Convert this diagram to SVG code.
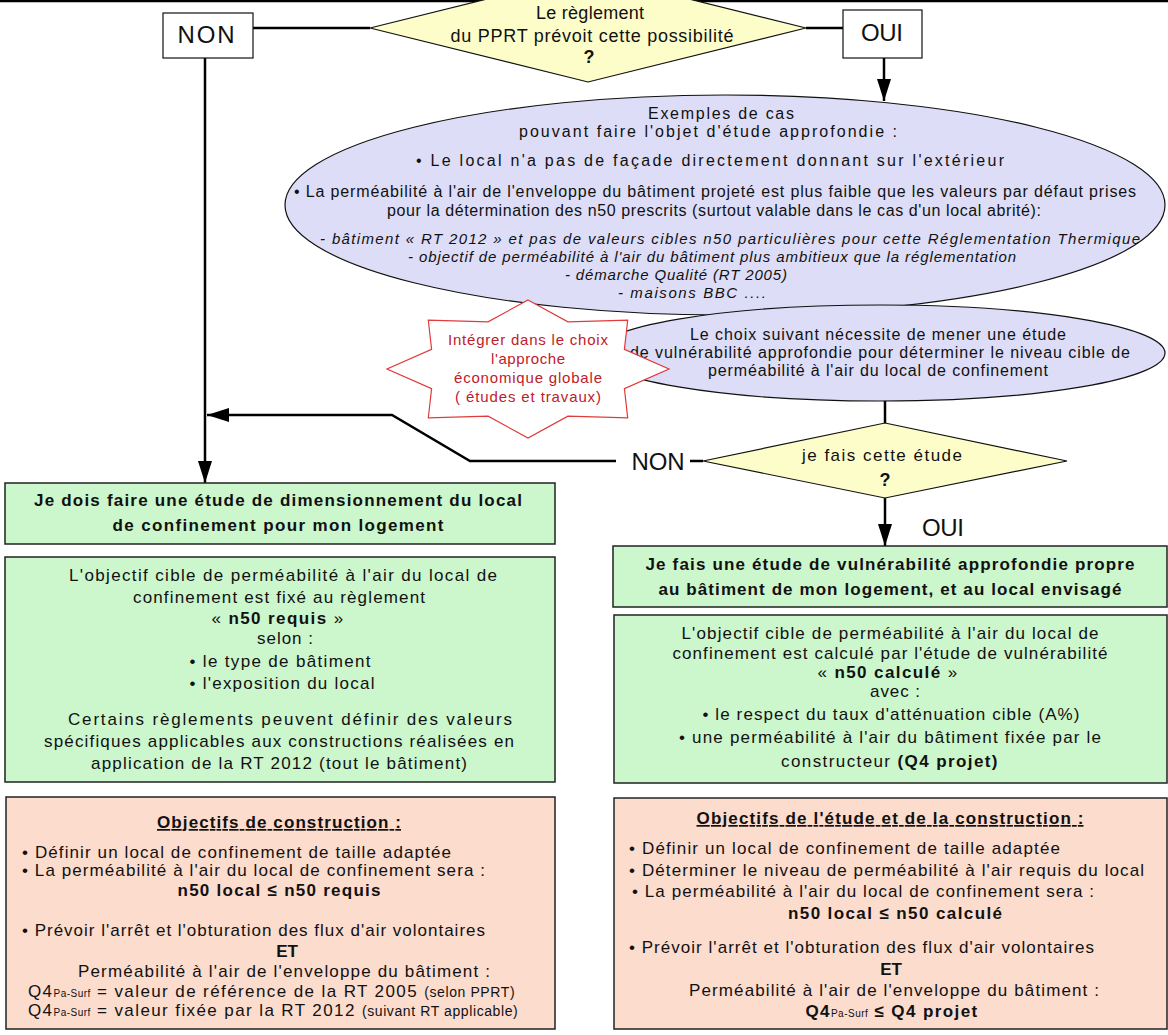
<svg xmlns="http://www.w3.org/2000/svg" width="1168" height="1035" viewBox="0 0 1168 1035">
<defs>
<marker id="ah" viewBox="0 0 22 14" refX="22" refY="7" markerWidth="22" markerHeight="14" markerUnits="userSpaceOnUse" orient="auto"><path d="M0,0 L22,7 L0,14 z" fill="#000"/></marker>
<style>
.f{font-family:"Liberation Sans",Arial,sans-serif;fill:#111}
.c{text-anchor:middle}
.s15{font-size:15px}
.s16{font-size:16px}
.s17{font-size:17px}
.s18{font-size:18px}
.bd{font-weight:bold}
.it{font-style:italic}
.red{fill:#c0202a}
.lbl{font-size:24px}
.box{stroke:#222;stroke-width:1.5}
.green{fill:#ccf6cc}
.pink{fill:#fcdccd}
.lav{fill:#ddddf7;stroke:#111;stroke-width:1.2}
.yel{fill:#fdfdc9;stroke:#111;stroke-width:1.2}
.wbox{fill:#fff;stroke:#111;stroke-width:1.2}
.conn{fill:none;stroke:#000;stroke-width:2.5}
.ls{letter-spacing:1.4px}
</style>
</defs>
<rect width="1168" height="1035" fill="#fff"/>

<g id="connectors">
<line class="conn" x1="0" y1="1" x2="1168" y2="1" stroke-width="1.5"/>
<line class="conn" x1="253" y1="28" x2="370" y2="28"/>
<line class="conn" x1="806" y1="28" x2="843" y2="28"/>
<path class="conn" d="M205,58 V483" marker-end="url(#ah)"/>
<path class="conn" d="M884,58 V101" marker-end="url(#ah)"/>
<path class="conn" d="M885,400 V423"/>
<path class="conn" d="M703,461 H690"/>
<path class="conn" d="M616,461 H470 L392,415 H207" marker-end="url(#ah)"/>
<path class="conn" d="M885,498 V546" marker-end="url(#ah)"/>
<text class="f lbl c" x="658" y="470" textLength="53">NON</text>
<text class="f lbl c" x="943" y="536" textLength="42">OUI</text>
</g>

<g id="n-q1">
<polygon class="yel" points="588,-26 806,28 588,82 370,28"/>
<text class="f s18 c" x="590" y="19" textLength="108">Le règlement</text>
<text class="f s18 c" x="592" y="42" textLength="283">du PPRT prévoit cette possibilité</text>
<text class="f s18 c bd" x="589" y="63">?</text>
</g>

<g id="n-non1">
<rect class="wbox" x="163" y="13" width="90" height="45"/>
<text class="f lbl c" x="206" y="43" textLength="57">NON</text>
</g>

<g id="n-oui1">
<rect class="wbox" x="843" y="10" width="79" height="48"/>
<text class="f lbl c" x="882" y="41" textLength="42">OUI</text>
</g>

<g id="n-examples">
<ellipse class="lav" cx="725" cy="205" rx="440" ry="110"/>
<text class="f s16 c" x="721" y="119" textLength="146">Exemples de cas</text>
<text class="f s16 c" x="708" y="137" textLength="378">pouvant faire l'objet d'étude approfondie :</text>
<text class="f s16 c" x="710" y="166" textLength="588">•  Le local n'a pas de façade directement donnant sur l'extérieur</text>
<text class="f s16 c" x="715" y="197" textLength="842">•  La perméabilité à l'air de l'enveloppe du bâtiment projeté est plus faible que les valeurs par défaut prises</text>
<text class="f s16 c" x="714" y="216" textLength="654">pour la détermination des n50 prescrits (surtout valable dans le cas d'un local abrité):</text>
<text class="f s15 c it" x="730" y="244" textLength="820">- bâtiment « RT 2012 » et pas de valeurs cibles n50 particulières  pour cette Réglementation Thermique</text>
<text class="f s15 c it" x="712" y="262" textLength="608">- objectif de perméabilité à l'air du bâtiment plus ambitieux que la réglementation</text>
<text class="f s15 c it" x="676" y="280" textLength="222">- démarche Qualité (RT 2005)</text>
<text class="f s15 c it" x="692" y="298" textLength="148">- maisons BBC ....</text>
</g>

<g id="n-choice">
<ellipse class="lav" cx="880" cy="353" rx="285" ry="48"/>
<text class="f s16 c" x="878" y="340" textLength="376">Le choix suivant nécessite de mener une étude</text>
<text class="f s16 c" x="880" y="358" textLength="500">de vulnérabilité approfondie pour déterminer  le niveau cible de</text>
<text class="f s16 c" x="878" y="376" textLength="340">perméabilité à l'air du local de confinement</text>
</g>

<g id="n-star">
<polygon fill="#fff" stroke="#e03a3a" stroke-width="1.2" points="528,300 567.9,321.8 627.7,320.2 624.4,349.4 669,369 624.4,388.6 627.7,417.8 567.9,416.2 528,438 488.1,416.2 428.3,417.8 431.6,388.6 387,369 431.6,349.4 428.3,320.2 488.1,321.8"/>
<text class="f s15 c red" x="528" y="345" textLength="160">Intégrer dans le choix</text>
<text class="f s15 c red" x="528" y="364" textLength="74">l'approche</text>
<text class="f s15 c red" x="528" y="383" textLength="148">économique globale</text>
<text class="f s15 c red" x="528" y="402" textLength="146">( études et travaux)</text>
</g>

<g id="n-q2">
<polygon class="yel" points="885,423 1067,461 885,498 703,461"/>
<text class="f s17 c" x="882" y="461" textLength="160">je fais cette étude</text>
<text class="f s18 c bd" x="885" y="486">?</text>
</g>

<g id="n-left-title">
<rect class="box green" x="5" y="483" width="550" height="61"/>
<text class="f s17 c bd" x="278" y="506" textLength="488">Je dois faire une étude de dimensionnement du local</text>
<text class="f s17 c bd" x="278" y="531" textLength="331">de confinement pour mon logement</text>
</g>

<g id="n-left-obj">
<rect class="box green" x="5" y="557" width="550" height="225"/>
<text class="f s17 c" x="283" y="581" textLength="428">L'objectif cible de perméabilité à l'air du local de</text>
<text class="f s17 c" x="279" y="603" textLength="292">confinement est fixé au règlement</text>
<text class="f s17 c ls" x="278" y="624">« <tspan class="bd">n50 requis</tspan> »</text>
<text class="f s17 c" x="285" y="644" textLength="56">selon :</text>
<text class="f s17 c" x="280" y="667" textLength="181">•  le type de bâtiment</text>
<text class="f s17 c" x="282" y="689" textLength="185">•  l'exposition du local</text>
<text class="f s17 c" x="290" y="725" textLength="444">Certains règlements peuvent définir des valeurs</text>
<text class="f s17 c" x="279" y="747" textLength="470">spécifiques applicables aux constructions réalisées en</text>
<text class="f s17 c" x="279" y="769" textLength="376">application de la RT 2012 (tout le bâtiment)</text>
</g>

<g id="n-left-cons">
<rect class="box pink" x="6" y="797" width="549" height="232"/>
<text class="f s17 c bd" x="279" y="828" textLength="244" text-decoration="underline">Objectifs de construction :</text>
<text class="f s17" x="22" y="858" textLength="429">• Définir un local de confinement de taille adaptée</text>
<text class="f s17" x="22" y="876" textLength="463">• La perméabilité à l'air du local de confinement sera :</text>
<text class="f s17 c bd" x="279" y="896" textLength="203">n50 local ≤ n50 requis</text>
<text class="f s17" x="22" y="936" textLength="463">• Prévoir l'arrêt et l'obturation des flux d'air volontaires</text>
<text class="f s17 c bd" x="287" y="957">ET</text>
<text class="f s17 c" x="284" y="977" textLength="412">Perméabilité à l'air de l'enveloppe du bâtiment :</text>
<text class="f s17 ls" x="28" y="997">Q4<tspan font-size="10" letter-spacing="0.5">Pa-Surf</tspan> = valeur de référence de la RT 2005 <tspan font-size="14" letter-spacing="0.6">(selon PPRT)</tspan></text>
<text class="f s17 ls" x="28" y="1016">Q4<tspan font-size="10" letter-spacing="0.5">Pa-Surf</tspan> = valeur fixée par la RT 2012 <tspan font-size="14" letter-spacing="0.6">(suivant RT applicable)</tspan></text>
</g>

<g id="n-right-title">
<rect class="box green" x="613" y="546" width="554" height="61"/>
<text class="f s17 c bd" x="890" y="570" textLength="489">Je fais une étude de vulnérabilité approfondie propre</text>
<text class="f s17 c bd" x="890" y="595" textLength="463">au bâtiment de mon logement, et au local envisagé</text>
</g>

<g id="n-right-obj">
<rect class="box green" x="614" y="615" width="553" height="168"/>
<text class="f s17 c" x="890" y="639" textLength="417">L'objectif cible de perméabilité à l'air du local de</text>
<text class="f s17 c" x="890" y="659" textLength="435">confinement est calculé par l'étude de vulnérabilité</text>
<text class="f s17 c ls" x="888" y="678">« <tspan class="bd">n50 calculé</tspan> »</text>
<text class="f s17 c" x="895" y="697" textLength="50">avec :</text>
<text class="f s17 c" x="891" y="720" textLength="377">• le respect du taux d'atténuation cible (A%)</text>
<text class="f s17 c" x="890" y="743" textLength="422">•  une perméabilité à l'air du bâtiment fixée par le</text>
<text class="f s17 c ls" x="890" y="767">constructeur <tspan class="bd">(Q4 projet)</tspan></text>
</g>

<g id="n-right-cons">
<rect class="box pink" x="614" y="798" width="553" height="231"/>
<text class="f s17 c bd" x="890" y="824" textLength="387" text-decoration="underline">Objectifs de l'étude et de la construction :</text>
<text class="f s17" x="629" y="854" textLength="431">• Définir un local de confinement de taille adaptée</text>
<text class="f s17" x="629" y="876" textLength="515">• Déterminer le niveau de perméabilité à l'air requis du local</text>
<text class="f s17" x="632" y="897" textLength="462">• La perméabilité à l'air du local de confinement sera :</text>
<text class="f s17 c bd" x="895" y="919" textLength="214">n50 local ≤ n50 calculé</text>
<text class="f s17" x="629" y="953" textLength="465">• Prévoir l'arrêt et l'obturation des flux d'air volontaires</text>
<text class="f s17 c bd" x="891" y="975">ET</text>
<text class="f s17 c" x="894" y="996" textLength="410">Perméabilité à l'air de l'enveloppe du bâtiment :</text>
<text class="f s17 c bd ls" x="892" y="1017">Q4<tspan font-size="10" font-weight="normal" letter-spacing="0.5">Pa-Surf</tspan> ≤ Q4 projet</text>
</g>
</svg>
